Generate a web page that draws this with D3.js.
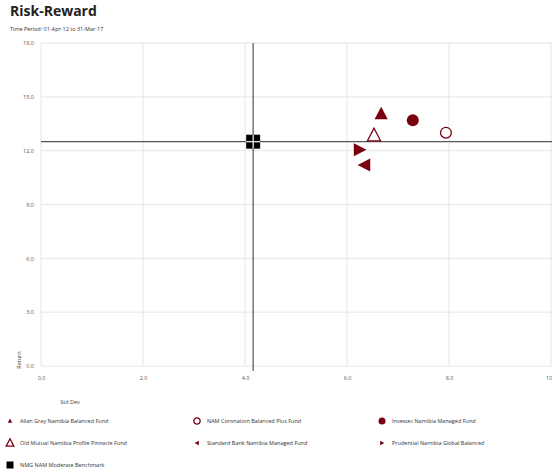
<!DOCTYPE html>
<html><head><meta charset="utf-8">
<script src="https://cdn.jsdelivr.net/npm/d3@7"></script>
<style>body{margin:0;background:#fff;font-family:"Open Sans",sans-serif}</style>
</head><body><svg id="c" width="552" height="475"></svg>
<script>
const title = "Risk-Reward";
const subtitle = "Time Period: 01-Apr-12 to 31-Mar-17";
const funds = ["Allan Gray Namibia Balanced Fund","NAM Coronation Balanced Plus Fund","Investec Namibia Managed Fund","Old Mutual Namibia Profile Pinnacle Fund","Standard Bank Namibia Managed Fund","Prudential Namibia Global Balanced","NMG NAM Moderate Benchmark"];
const stdDev = [6.67, 7.94, 7.29, 6.53, 6.35, 6.24, 4.16];
const returns = [14.05, 13.0, 13.7, 12.85, 11.2, 12.05, 12.5];
const shapes = ["triUp","circleOpen","circle","triUpOpen","triLeft","triRight","square"];
const xTicks = [0,2,4,6,8,10];
const yTicks = [0,3,6,9,12,15,18];
const benchX = 4.16, benchY = 12.5;

const svg = d3.select("#c");
const red = "#7a0010";
const m = {l:41, r:551, t:43, b:366};
const x = d3.scaleLinear().domain([0,10]).range([m.l,m.r]);
const y = d3.scaleLinear().domain([0,18]).range([m.b,m.t]);

svg.append("text").attr("x",10).attr("y",16).attr("font-size",14).attr("font-weight","bold").attr("fill","#222").text(title);
svg.append("text").attr("x",10).attr("y",31).attr("font-size",5.5).attr("fill","#333").text(subtitle);

// grid
svg.append("g").selectAll("line").data(yTicks).join("line")
  .attr("x1",m.l).attr("x2",552).attr("y1",d=>y(d)).attr("y2",d=>y(d)).attr("stroke","#e6e6e6");
svg.append("g").selectAll("line").data(xTicks).join("line")
  .attr("x1",d=>x(d)).attr("x2",d=>x(d)).attr("y1",m.t).attr("y2",m.b).attr("stroke","#e6e6e6");

// axes
const ya = d3.axisLeft(y).tickValues(yTicks).tickFormat(d3.format(".1f")).tickSize(0).tickPadding(7);
const yg = svg.append("g").attr("transform",`translate(${m.l},0)`).call(ya);
const xa = d3.axisBottom(x).tickValues(xTicks).tickFormat(d3.format(".1f")).tickSize(0).tickPadding(10);
const xg = svg.append("g").attr("transform",`translate(0,${m.b})`).call(xa);
[yg,xg].forEach(g=>{g.select(".domain").remove();g.selectAll("text").attr("font-size",5.5).attr("fill","#555").attr("font-family","Open Sans");});

svg.append("text").attr("transform",`translate(21,${m.b-6}) rotate(-90)`).attr("text-anchor","middle").attr("font-size",5.5).attr("fill","#444").text("Return");
svg.append("text").attr("x",70).attr("y",404).attr("text-anchor","middle").attr("font-size",5.5).attr("fill","#444").text("Std Dev");

// crosshair
svg.append("line").attr("x1",m.l).attr("x2",552).attr("y1",y(benchY)).attr("y2",y(benchY)).attr("stroke","#555").attr("stroke-width",1.2);
svg.append("line").attr("x1",x(benchX)).attr("x2",x(benchX)).attr("y1",m.t).attr("y2",m.b+5).attr("stroke","#555").attr("stroke-width",1.2);

function marker(g, shape, s){
  const tri = (rot)=>{const p=[[0,-s*0.6],[s*0.55,s*0.45],[-s*0.55,s*0.45]];return "M"+p.map(([a,b])=>{const r=rot*Math.PI/180;return [a*Math.cos(r)-b*Math.sin(r),a*Math.sin(r)+b*Math.cos(r)];}).join("L")+"Z";};
  if(shape==="triUp") g.append("path").attr("d",tri(0)).attr("fill",red);
  if(shape==="triUpOpen") g.append("path").attr("d",tri(0)).attr("fill","#fff").attr("stroke",red).attr("stroke-width",1.3);
  if(shape==="triLeft") g.append("path").attr("d",tri(-90)).attr("fill",red);
  if(shape==="triRight") g.append("path").attr("d",tri(90)).attr("fill",red);
  if(shape==="circle") g.append("circle").attr("r",s*0.5).attr("fill",red);
  if(shape==="circleOpen") g.append("circle").attr("r",s*0.45).attr("fill","#fff").attr("stroke",red).attr("stroke-width",1.3);
  if(shape==="square"){
    g.append("rect").attr("x",-s/2).attr("y",-s/2).attr("width",s).attr("height",s).attr("fill","#000");
    g.append("line").attr("x1",-s/2).attr("x2",s/2).attr("y1",0).attr("y2",0).attr("stroke","#fff").attr("stroke-width",1.2);
    g.append("line").attr("y1",-s/2).attr("y2",s/2).attr("x1",0).attr("x2",0).attr("stroke","#fff").attr("stroke-width",1.2);
  }
}
funds.forEach((f,i)=>{
  const g = svg.append("g").attr("transform",`translate(${x(stdDev[i])},${y(returns[i])})`);
  marker(g, shapes[i], shapes[i]==="square"?14:12);
});

// legend
const legX=[10,197,382], legY=[421,443,465];
funds.forEach((f,i)=>{
  const cx=legX[i%3], cy=legY[Math.floor(i/3)];
  const g=svg.append("g").attr("transform",`translate(${cx},${cy})`);
  const s = (shapes[i]==="circleOpen"||shapes[i]==="triUpOpen"||shapes[i]==="circle")?7:4;
  if(shapes[i]==="square") g.append("rect").attr("x",-3.5).attr("y",-3.5).attr("width",7).attr("height",7).attr("fill","#000");
  else marker(g, shapes[i], s);
  svg.append("text").attr("x",cx+10).attr("y",cy+2).attr("font-size",5.5).attr("fill","#333").text(f);
});
</script></body></html>
